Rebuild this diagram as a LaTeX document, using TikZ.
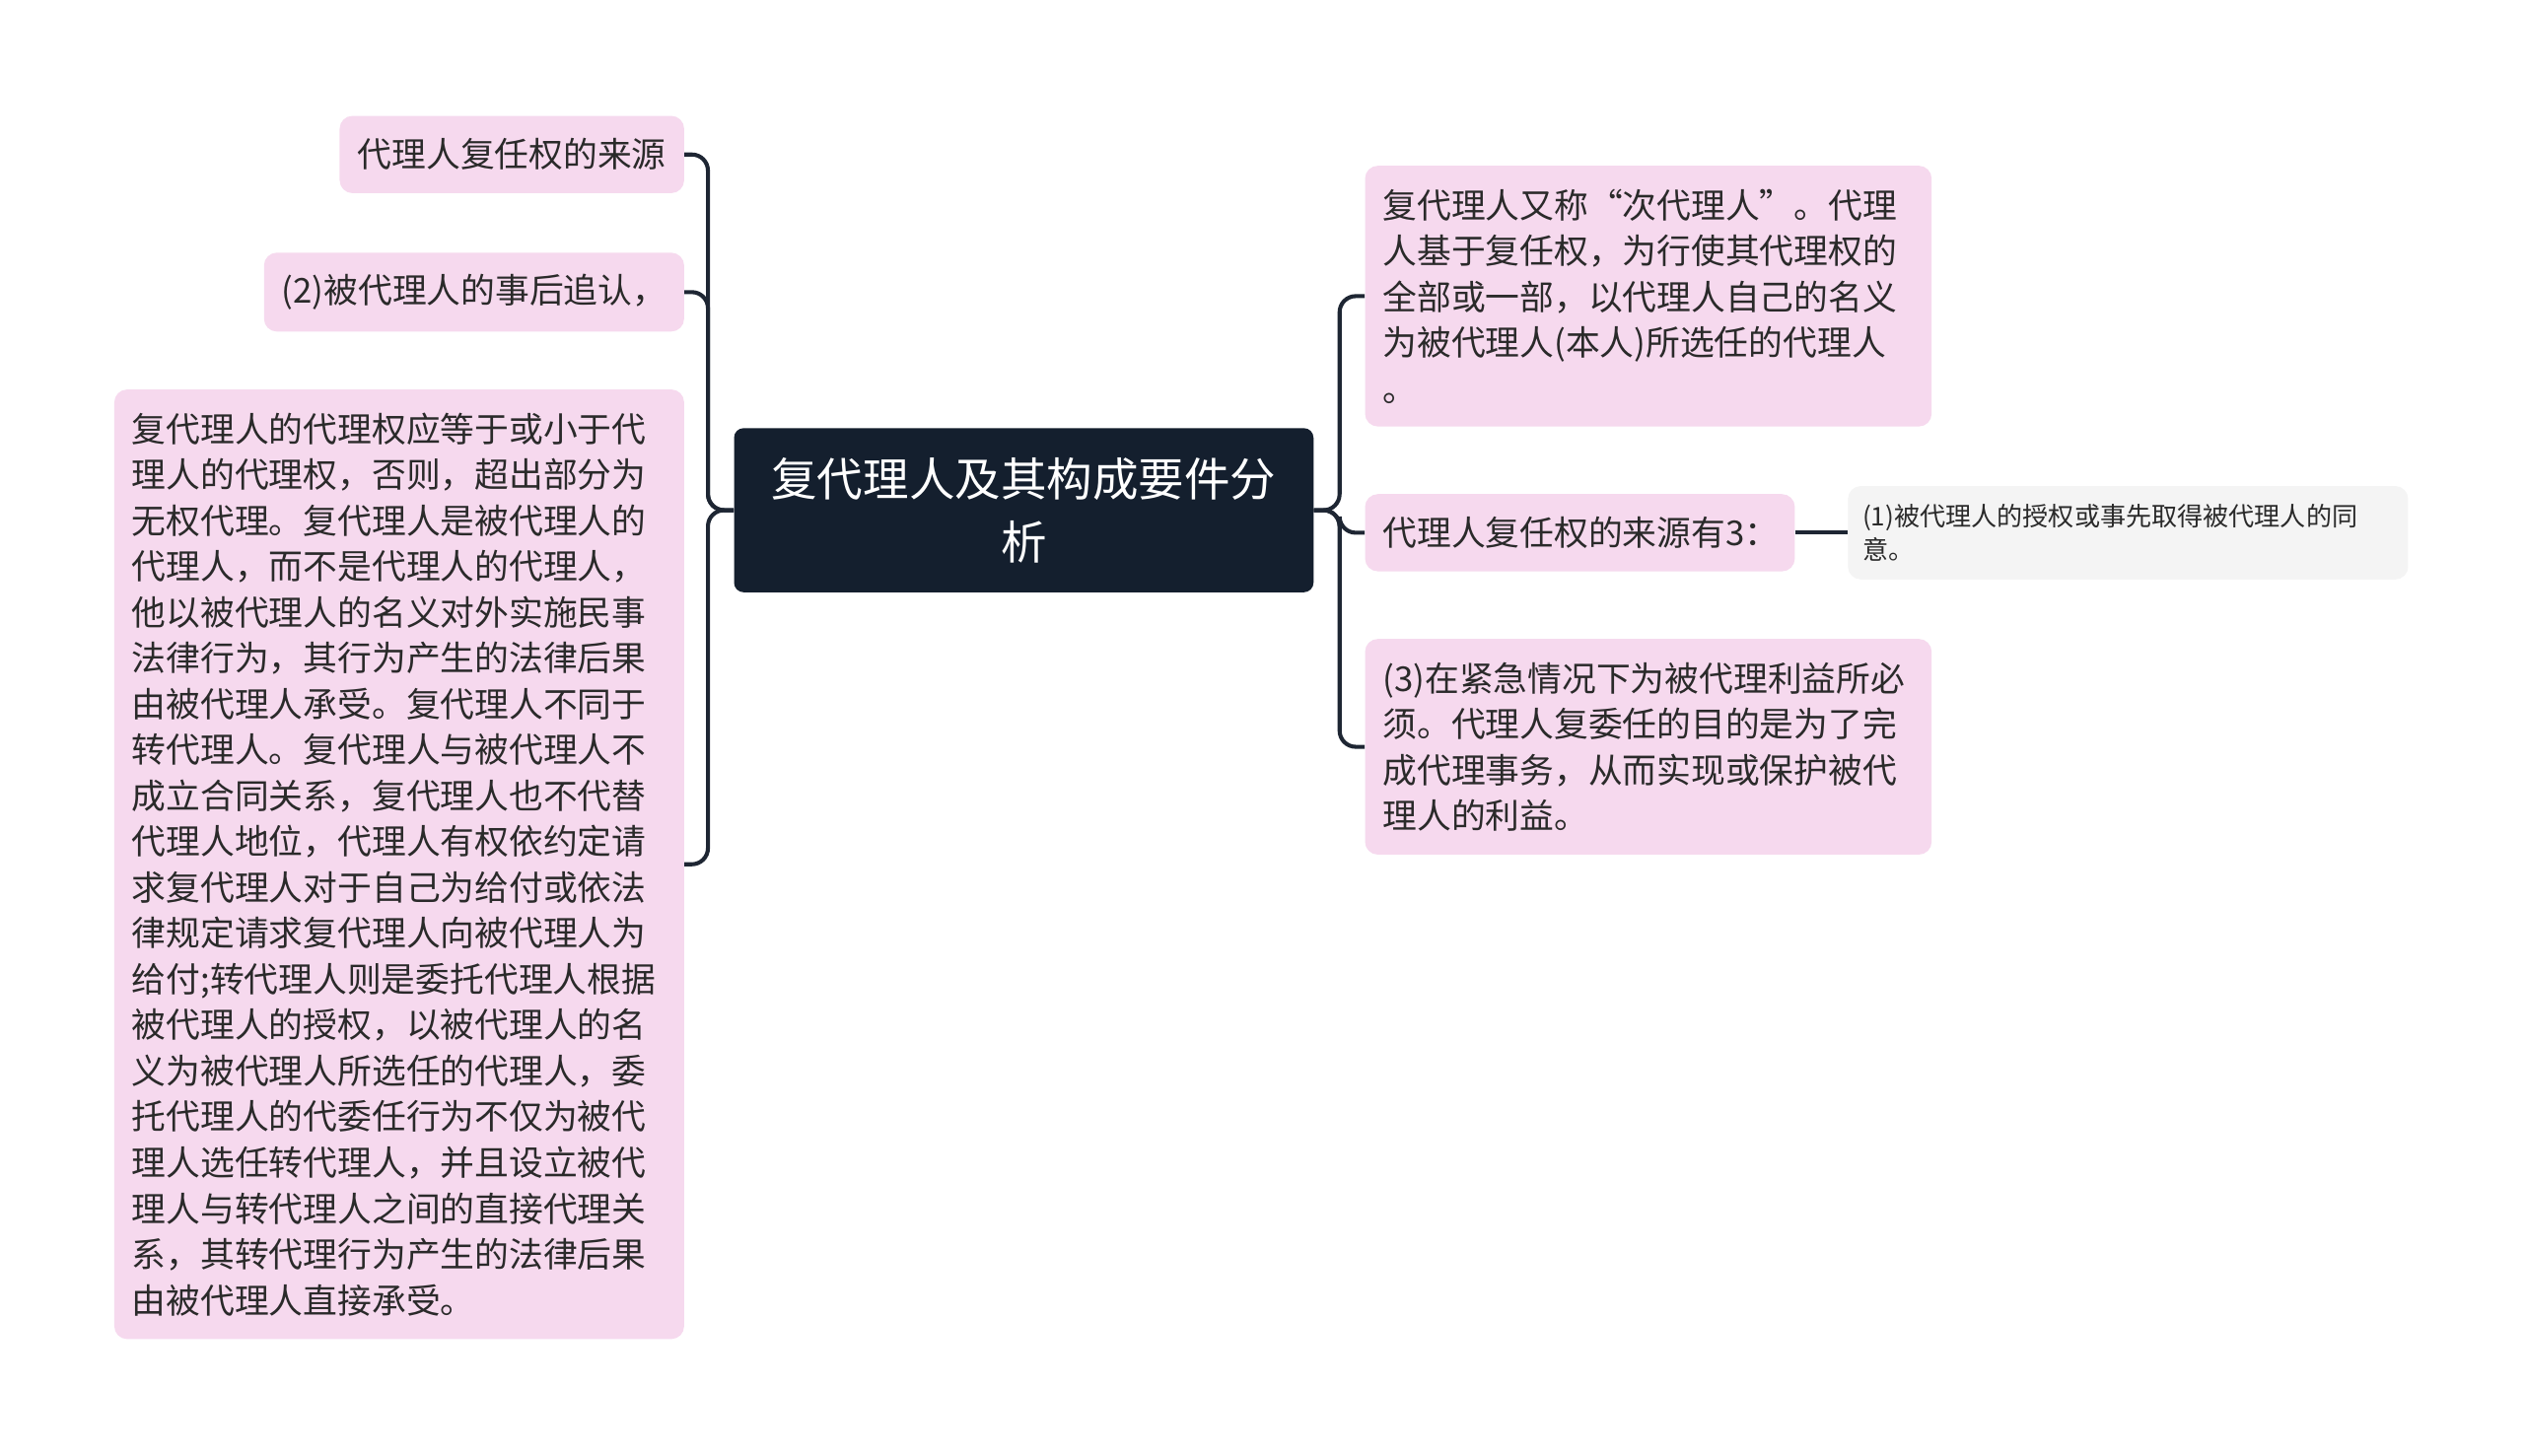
\documentclass[tikz,border=0pt]{standalone}
\usepackage{fontspec}
\newfontfamily\cjk{Noto Sans CJK SC}
\usepackage{tikz}
\usetikzlibrary{positioning}
\definecolor{navy}{HTML}{141F2E}
\definecolor{linecol}{HTML}{1E2633}
\definecolor{pinkfill}{HTML}{F6D9EE}
\definecolor{greyfill}{HTML}{F4F4F4}
\definecolor{textcol}{HTML}{2A2A2A}

\begin{document}
\begin{tikzpicture}[x=1pt,y=-1pt,
	root node/.style={rectangle,rounded corners=6pt,fill=navy,text=white,align=center,
		font=\cjk\fontsize{28.5}{39}\selectfont,inner xsep=10pt,inner ysep=0pt},
	main node/.style={rectangle,rounded corners=8pt,fill=pinkfill,text=textcol,
		font=\cjk\fontsize{21.3}{28.5}\selectfont,inner xsep=11pt,inner ysep=0pt},
	leaf node/.style={rectangle,rounded corners=8pt,fill=greyfill,text=textcol,align=left,
		font=\cjk\fontsize{16}{21}\selectfont,inner xsep=9pt,inner ysep=0pt},
	branch/.style={draw=linecol,line width=2.5pt,rounded corners=10pt},
	to left/.style={to path={(\tikztostart.west) -- ++(-16,0) |- (\tikztotarget.east)}},
	to right/.style={to path={(\tikztostart.east) -- ++(16,0) |- (\tikztotarget.west)}}]
	
	\useasboundingbox[fill=white] (0,0) rectangle (1568,904.6);
	
	\node[root node, text width=340pt, minimum height=102pt] (0) at (636,317)
		{复代理人及其构成要件分\\析};
	
	% left side
	\node[main node, align=center, text width=192pt, minimum height=48pt] (1) at (318,96)
		{代理人复任权的来源};
	\node[main node, align=center, text width=239pt, minimum height=49pt] (2) at (294.5,181.5)
		{(2)被代理人的事后追认，};
	\node[main node, align=left, text width=332pt, minimum height=590pt] (3) at (248,537)
		{复代理人的代理权应等于或小于代\\
		理人的代理权，否则，超出部分为\\
		无权代理。复代理人是被代理人的\\
		代理人，而不是代理人的代理人，\\
		他以被代理人的名义对外实施民事\\
		法律行为，其行为产生的法律后果\\
		由被代理人承受。复代理人不同于\\
		转代理人。复代理人与被代理人不\\
		成立合同关系，复代理人也不代替\\
		代理人地位，代理人有权依约定请\\
		求复代理人对于自己为给付或依法\\
		律规定请求复代理人向被代理人为\\
		给付;转代理人则是委托代理人根据\\
		被代理人的授权，以被代理人的名\\
		义为被代理人所选任的代理人，委\\
		托代理人的代委任行为不仅为被代\\
		理人选任转代理人，并且设立被代\\
		理人与转代理人之间的直接代理关\\
		系，其转代理行为产生的法律后果\\
		由被代理人直接承受。};
	
	% right side
	\node[main node, align=left, text width=330pt, minimum height=162pt] (4) at (1024,184)
		{复代理人又称“次代理人”。代理\\
		人基于复任权，为行使其代理权的\\
		全部或一部，以代理人自己的名义\\
		为被代理人(本人)所选任的代理人\\
		。};
	\node[main node, align=center, text width=245pt, minimum height=48pt] (5) at (981.5,331)
		{代理人复任权的来源有3：};
	\node[main node, align=left, text width=330pt, minimum height=134pt] (6) at (1024,464)
		{(3)在紧急情况下为被代理利益所必\\
		须。代理人复委任的目的是为了完\\
		成代理事务，从而实现或保护被代\\
		理人的利益。};
	\node[leaf node, text width=330pt, minimum height=58pt] (A) at (1322,331)
		{(1)被代理人的授权或事先取得被代理人的同\\意。};
	
	\path[branch]
	(0) edge [to left] (1)
	edge [to left] (2)
	edge [to left] (3)
	(0) edge [to right] (4)
	edge [to right] (5)
	edge [to right] (6)
	(5) edge [rounded corners=0pt] (A);
	
\end{tikzpicture}
\end{document}
